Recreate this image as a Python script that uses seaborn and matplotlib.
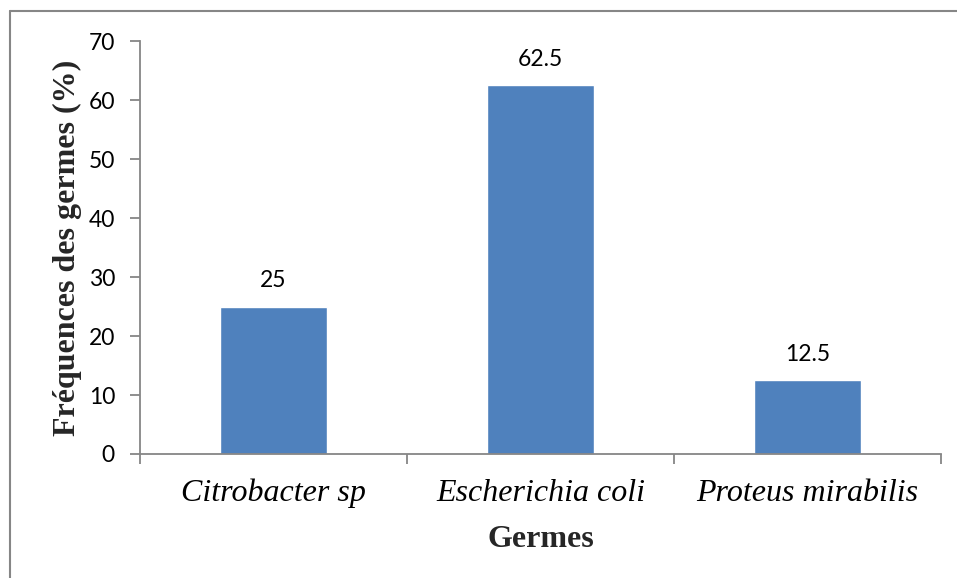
import numpy as np
import matplotlib.pyplot as plt
import seaborn as sns
from matplotlib.lines import Line2D

germes = ['Citrobacter sp', 'Escherichia coli', 'Proteus mirabilis']
frequences = [25, 62.5, 12.5]
etiquettes = ['25', '62.5', '12.5']

sns.set_style('white')
plt.rcParams['font.family'] = ['Lato', 'DejaVu Sans']
plt.rcParams['text.color'] = 'black'
plt.rcParams['xtick.color'] = 'black'
plt.rcParams['ytick.color'] = 'black'

fig = plt.figure(figsize=(9.57, 5.78), dpi=100)
ax = fig.add_axes([140 / 957, 1 - 454 / 578, 801 / 957, 413 / 578])

sns.barplot(x=germes, y=frequences, color='#4F81BD', saturation=1,
            width=0.4, ax=ax)

gris = '#868686'
ax.set_ylim(0, 70)
ax.set_xlim(-0.5, 2.5)
ax.set_yticks(np.arange(0, 71, 10))
ax.set_xticks([-0.5, 0.5, 1.5, 2.5], minor=True)
ax.tick_params(axis='x', which='major', length=0, pad=18)
ax.tick_params(axis='x', which='minor', length=7, width=1.3, color=gris,
               direction='out', bottom=True)
ax.tick_params(axis='y', length=7, width=1.3, color=gris, direction='out',
               left=True, labelsize=16.5, pad=11)
for lab in ax.get_xticklabels():
    lab.set_fontfamily('Liberation Serif')
    lab.set_fontstyle('italic')
    lab.set_fontsize(23)

for s in ['top', 'right']:
    ax.spines[s].set_visible(False)
for s in ['left', 'bottom']:
    ax.spines[s].set_color(gris)
    ax.spines[s].set_linewidth(1.3)

for i, (v, t) in enumerate(zip(frequences, etiquettes)):
    ax.annotate(t, (i, v), xytext=(0, 11), textcoords='offset points',
                ha='center', va='bottom', fontsize=16.5, color='black')

ax.set_xlabel('Germes', fontfamily='Liberation Serif', fontweight='bold',
              fontsize=23, labelpad=12)
ax.set_ylabel('Fréquences des germes (%)', fontfamily='Liberation Serif',
              fontweight='bold', fontsize=23, labelpad=5)

# cadre du graphique (bords gauche et haut visibles)
fig.add_artist(Line2D([10 / 957, 10 / 957], [0, 1 - 11 / 578],
                      transform=fig.transFigure, color=gris, lw=1.5))
fig.add_artist(Line2D([10 / 957, 1], [1 - 11 / 578, 1 - 11 / 578],
                      transform=fig.transFigure, color=gris, lw=1.5))

fig.savefig('out.png', dpi=100)
